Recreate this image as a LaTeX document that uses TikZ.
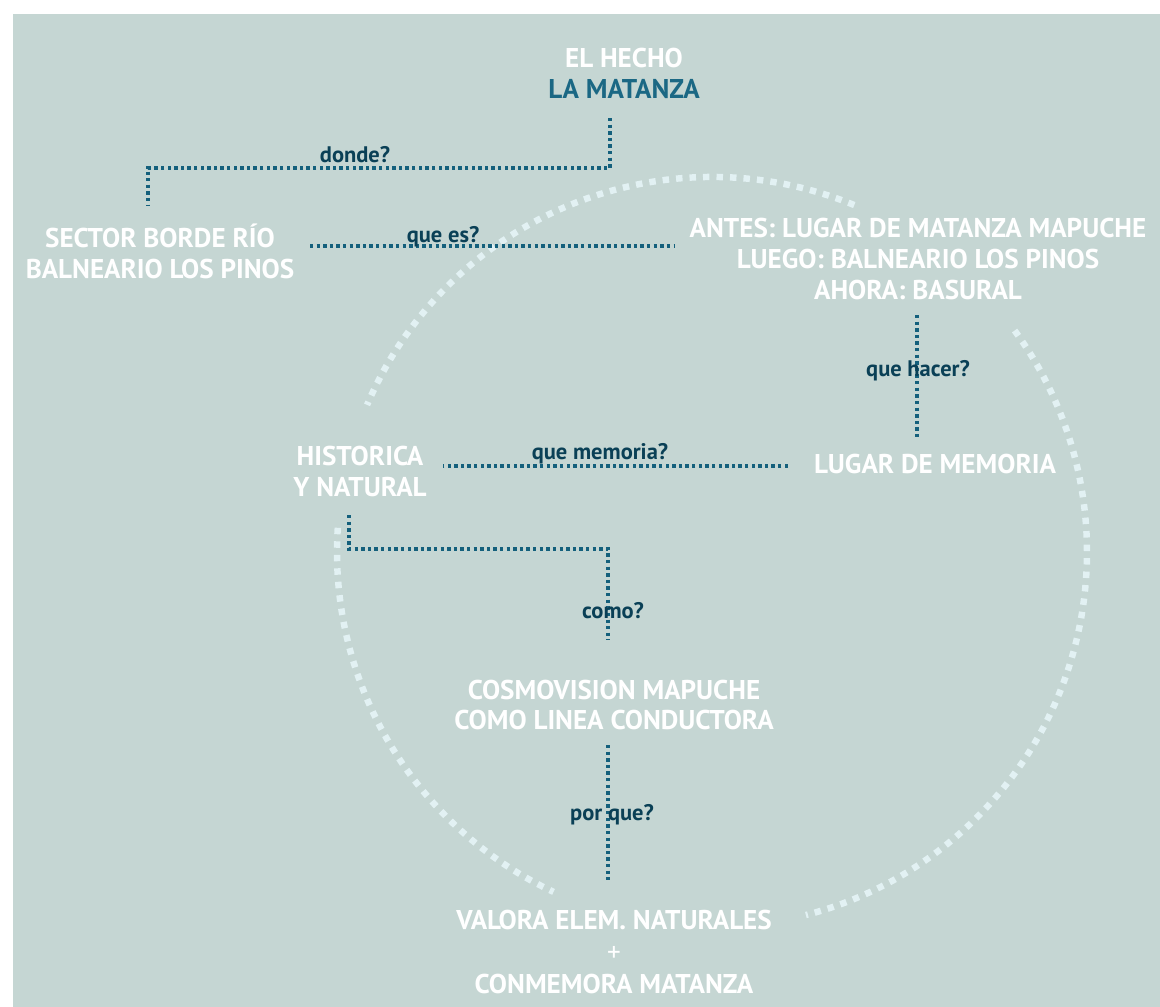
\documentclass[tikz,border=0pt]{standalone}
\usepackage{fontspec}
\setmainfont{PT Sans}
\usetikzlibrary{calc}

\definecolor{paper}{RGB}{197,214,211}
\definecolor{titleteal}{RGB}{27,104,132}
\definecolor{asktext}{RGB}{10,64,86}
\definecolor{dotteal}{RGB}{20,96,124}
\definecolor{ringcol}{RGB}{226,241,243}

\tikzset{
  bigtext/.style={text=white, font=\bfseries\fontsize{19.3}{22}\selectfont, align=center, inner sep=0pt},
  ask/.style={text=asktext, font=\bfseries\fontsize{16}{18}\selectfont, inner sep=0pt},
  link/.style={draw=dotteal, line width=2.5pt, dash pattern=on 2.4pt off 2.3pt},
  ring/.style={draw=ringcol, line width=4.6pt, dash pattern=on 4.6pt off 5pt}
}

\begin{document}
\begin{tikzpicture}[x=0.025cm, y=-0.025cm]

\useasboundingbox (0,0) rectangle (1160,1007);
\fill[white] (0,0) rectangle (1160,1007);
\fill[paper] (13,14) rectangle (1160,1007);

%the big dashed ring, in three pieces
\coordinate (C) at (712,552);
\draw[ring] ($(C)+(-67.7:375)$) arc (-67.7:-156.9:375);
\draw[ring] ($(C)+(-36.2:375)$) arc (-36.2:75.5:375);
\draw[ring] ($(C)+(-176.3:375)$) arc (-176.3:-245:375);

%texts
\node[bigtext] (hecho) at (624,73) {EL HECHO\\ \textcolor{titleteal}{LA MATANZA}};
\node[bigtext] (sector) at (160,251) {SECTOR BORDE RÍO\\ BALNEARIO LOS PINOS};
\node[bigtext] (antes) at (918,259) {ANTES: LUGAR DE MATANZA MAPUCHE\\ LUEGO: BALNEARIO LOS PINOS\\ AHORA: BASURAL};
\node[bigtext] (lugar) at (935,464) {LUGAR DE MEMORIA};
\node[bigtext] (historica) at (360,471) {HISTORICA\\ Y NATURAL};
\node[bigtext] (cosmo) at (614,705) {COSMOVISION MAPUCHE\\ COMO LINEA CONDUCTORA};
\node[bigtext, font=\bfseries\fontsize{19.3}{22.5}\selectfont] (valora) at (614,952) {VALORA ELEM. NATURALES\\ {\mdseries +}\\ CONMEMORA MATANZA};

%end points of the dotted links
\coordinate (dA) at (610,118);
\coordinate (dB) at (148,205);
\coordinate (eA) at (310,246);
\coordinate (eB) at (675,246);
\coordinate (hA) at (917,315);
\coordinate (hB) at (917,437);
\coordinate (mA) at (788,466);
\coordinate (mB) at (443,466);
\coordinate (cA) at (349,515);
\coordinate (cB) at (608,640);
\coordinate (pA) at (608,745);
\coordinate (pB) at (608,880);

%dotted links
\draw[link] (dA) -- (610,168) -| (dB);
\draw[link] (eA) -- (eB);
\draw[link] (hA) -- (hB);
\draw[link] (mA) -- (mB);
\draw[link] (cA) |- (cB |- 0,549) -- (cB);
\draw[link] (pA) -- (pB);

%questions
\node[ask] (donde) at (355,155) {donde?};
\node[ask] (quees) at (443,237) {que es?};
\node[ask] (hacer) at (918,371) {que hacer?};
\node[ask] (memoria) at (600,454) {que memoria?};
\node[ask] (como) at (613,611) {como?};
\node[ask] (porque) at (612,815) {por que?};

\end{tikzpicture}
\end{document}
